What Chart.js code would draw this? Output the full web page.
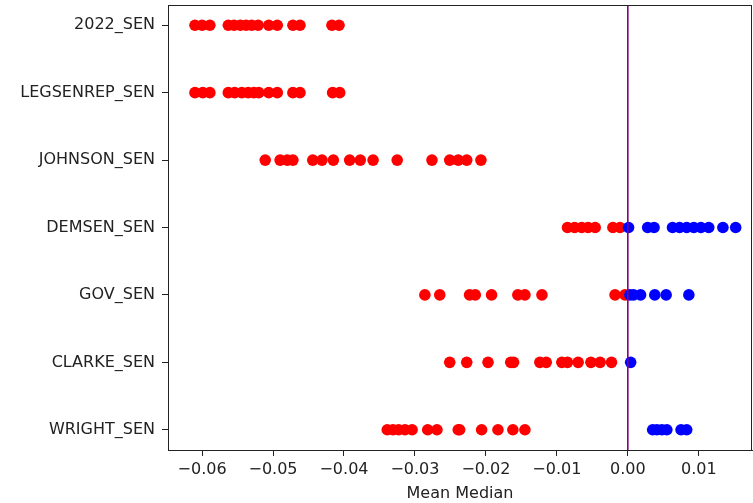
<!DOCTYPE html>
<html>
<head>
<meta charset="UTF-8" />
<title>Mean Median</title>
<script src="https://cdn.jsdelivr.net/npm/chart.js@4/dist/chart.umd.min.js"></script>
<style>
  body { margin: 0; background: #fff; }
  #box { width: 753px; height: 503px; }
</style>
</head>
<body>
<div id="box"><canvas id="myChart" width="753" height="503"></canvas></div>
<script>
// categories, bottom to top (as plotted)
const categories = ['WRIGHT_SEN', 'CLARKE_SEN', 'GOV_SEN', 'DEMSEN_SEN', 'JOHNSON_SEN', 'LEGSENREP_SEN', '2022_SEN'];

// negative (red) values per category
const redValues = [
  [-0.0339, -0.0331, -0.0323, -0.0314, -0.0304, -0.0282, -0.0269, -0.0239, -0.0237, -0.0206, -0.0183, -0.0162, -0.0145],
  [-0.0251, -0.0227, -0.0197, -0.0165, -0.0161, -0.0124, -0.0115, -0.0093, -0.0085, -0.0070, -0.0052, -0.0039, -0.0023],
  [-0.0286, -0.0265, -0.0223, -0.0215, -0.0192, -0.0155, -0.0145, -0.0121, -0.0018, -0.0004],
  [-0.0085, -0.0075, -0.0065, -0.0056, -0.0046, -0.0021, -0.0011],
  [-0.0511, -0.0490, -0.0480, -0.0472, -0.0444, -0.0431, -0.0415, -0.0392, -0.0377, -0.0359, -0.0325, -0.0276, -0.0251, -0.0239, -0.0227, -0.0207],
  [-0.0610, -0.0599, -0.0589, -0.0563, -0.0554, -0.0544, -0.0535, -0.0527, -0.0520, -0.0506, -0.0494, -0.0472, -0.0462, -0.0416, -0.0406],
  [-0.0610, -0.0600, -0.0589, -0.0563, -0.0555, -0.0546, -0.0538, -0.0530, -0.0521, -0.0506, -0.0494, -0.0472, -0.0462, -0.0417, -0.0407]
];

// positive (blue) values per category
const blueValues = [
  [0.0035, 0.0041, 0.0048, 0.0055, 0.0075, 0.0083],
  [0.0004],
  [0.0003, 0.0008, 0.0018, 0.0038, 0.0054, 0.0086],
  [0.0001, 0.0028, 0.0037, 0.0063, 0.0073, 0.0083, 0.0093, 0.0103, 0.0114, 0.0134, 0.0152],
  [], [], []
];

const xTicks = [-0.06, -0.05, -0.04, -0.03, -0.02, -0.01, 0.00, 0.01];

function toPoints(lists) {
  const pts = [];
  lists.forEach(function (vals, i) {
    vals.forEach(function (v) { pts.push({ x: v, y: i }); });
  });
  return pts;
}

// matplotlib-like box around the plot
const frame = {
  id: 'frame',
  afterDraw(chart) {
    const a = chart.chartArea, c = chart.ctx;
    c.save();
    c.strokeStyle = '#222';
    c.lineWidth = 1;
    c.strokeRect(a.left + 0.5, a.top + 0.5, a.right - a.left - 1, a.bottom - a.top);
    c.restore();
  }
};

Chart.defaults.font.family = 'DejaVu Sans';
Chart.defaults.font.size = 16;
Chart.defaults.color = '#222';

const ctx = document.getElementById('myChart').getContext('2d');
const myChart = new Chart(ctx, {
  type: 'scatter',
  data: {
    datasets: [{
      data: [{ x: 0, y: -0.3 }, { x: 0, y: 6.3 }],
      showLine: true,
      borderColor: '#800080',
      borderWidth: 1.6,
      pointRadius: 0
    }, {
      data: toPoints(blueValues),
      backgroundColor: 'blue',
      borderWidth: 0,
      pointRadius: 5.8
    }, {
      data: toPoints(redValues),
      backgroundColor: 'red',
      borderWidth: 0,
      pointRadius: 5.8
    }]
  },
  options: {
    responsive: false,
    animation: false,
    layout: { autoPadding: false, padding: { top: 5, right: 1, left: 0, bottom: 0 } },
    plugins: { legend: { display: false }, tooltip: { enabled: false } },
    scales: {
      x: {
        type: 'linear',
        min: -0.0648,
        max: 0.0175,
        afterBuildTicks: function (s) { s.ticks = xTicks.map(function (v) { return { value: v }; }); },
        afterFit: function (s) { s.height = 53; s.paddingLeft = 0; s.paddingRight = 0; },
        ticks: {
          padding: 4,
          callback: function (v) { return (v < 0 ? '\u2212' : '') + Math.abs(v).toFixed(2); }
        },
        grid: { drawOnChartArea: false, tickLength: 6, tickColor: '#222' },
        border: { color: '#222' },
        title: { display: true, text: 'Mean Median', padding: { top: 1, bottom: 0 } }
      },
      y: {
        type: 'linear',
        min: -0.3,
        max: 6.3,
        afterBuildTicks: function (s) { s.ticks = categories.map(function (c, i) { return { value: i }; }); },
        afterFit: function (s) { s.width = 168; s.paddingTop = 0; s.paddingBottom = 0; },
        ticks: {
          padding: 7,
          callback: function (v) { return categories[v]; }
        },
        grid: { drawOnChartArea: false, tickLength: 6, tickColor: '#222' },
        border: { color: '#222' }
      }
    }
  },
  plugins: [frame]
});
</script>
</body>
</html>
